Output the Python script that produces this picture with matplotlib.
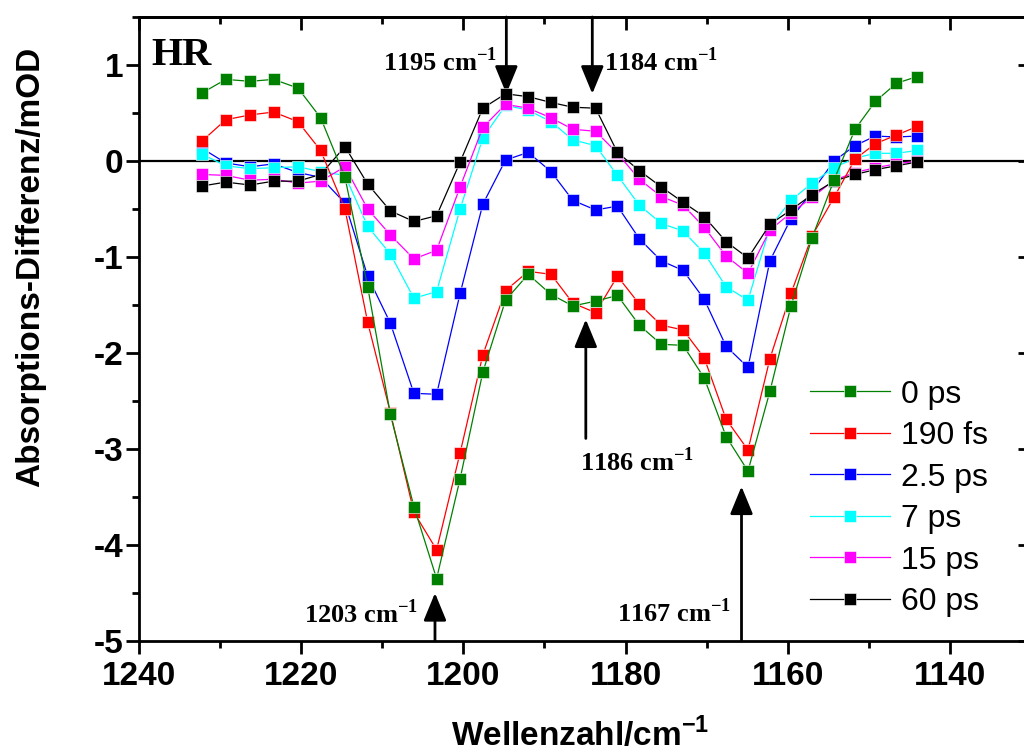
import matplotlib
matplotlib.use("Agg")
import matplotlib.pyplot as plt
from matplotlib.ticker import MultipleLocator, FuncFormatter

plt.rcParams["font.family"] = ["Liberation Sans", "DejaVu Sans"]
plt.rcParams["font.weight"] = "bold"
plt.rcParams["axes.unicode_minus"] = False
plt.rcParams["mathtext.fontset"] = "custom"
plt.rcParams["mathtext.rm"] = "Liberation Serif:bold"
plt.rcParams["mathtext.sf"] = "Liberation Sans:bold"

# wavenumbers of the detector pixels (cm^-1)
wavenumber = [1232.2, 1229.3, 1226.3, 1223.4, 1220.4, 1217.6, 1214.6, 1211.8, 1209.0,
              1206.1, 1203.3, 1200.4, 1197.6, 1194.8, 1192.0, 1189.2, 1186.5, 1183.7,
              1181.0, 1178.3, 1175.6, 1172.9, 1170.3, 1167.6, 1164.9, 1162.2, 1159.6,
              1157.0, 1154.3, 1151.7, 1149.2, 1146.6, 1144.0]

# absorbance differences (mOD) per delay time
od_0ps = [0.71, 0.85, 0.83, 0.85, 0.76, 0.45, -0.17, -1.31, -2.64, -3.60, -4.35,
          -3.31, -2.20, -1.45, -1.18, -1.39, -1.51, -1.46, -1.40, -1.71, -1.91, -1.92,
          -2.26, -2.87, -3.23, -2.40, -1.51, -0.80, -0.20, 0.33, 0.62, 0.81, 0.88]
od_190fs = [0.21, 0.43, 0.48, 0.51, 0.41, 0.11, -0.50, -1.68, -2.62, -3.66, -4.05,
            -3.04, -2.02, -1.35, -1.15, -1.18, -1.48, -1.58, -1.20, -1.49, -1.71, -1.76,
            -2.05, -2.69, -3.01, -2.06, -1.38, -0.78, -0.38, 0.02, 0.18, 0.27, 0.36]
od_2_5ps = [0.13, -0.02, -0.06, -0.03, -0.12, -0.17, -0.44, -1.20, -1.69, -2.42, -2.43,
            -1.38, -0.45, 0.01, 0.09, -0.11, -0.41, -0.51, -0.47, -0.81, -1.04, -1.14,
            -1.44, -1.93, -2.15, -1.04, -0.60, -0.32, 0.00, 0.16, 0.26, 0.25, 0.26]
od_7ps = [0.07, -0.05, -0.08, -0.07, -0.06, -0.11, -0.15, -0.68, -0.97, -1.43, -1.36,
          -0.50, 0.24, 0.58, 0.53, 0.41, 0.22, 0.16, -0.15, -0.46, -0.65, -0.73,
          -0.96, -1.31, -1.45, -0.69, -0.41, -0.23, -0.07, 0.03, 0.08, 0.08, 0.11]
od_15ps = [-0.14, -0.15, -0.20, -0.19, -0.23, -0.21, -0.06, -0.50, -0.77, -1.02, -0.93,
           -0.27, 0.35, 0.59, 0.55, 0.45, 0.33, 0.31, 0.08, -0.19, -0.37, -0.46,
           -0.69, -0.99, -1.17, -0.72, -0.54, -0.38, -0.20, -0.12, -0.07, -0.03, 0.00]
od_60ps = [-0.26, -0.22, -0.25, -0.21, -0.21, -0.14, 0.15, -0.24, -0.52, -0.63, -0.57,
           -0.01, 0.55, 0.70, 0.67, 0.61, 0.56, 0.55, 0.09, -0.10, -0.27, -0.43,
           -0.58, -0.84, -1.01, -0.66, -0.51, -0.35, -0.21, -0.14, -0.09, -0.05, -0.01]

labels = ["0 ps", "190 fs", "2.5 ps", "7 ps", "15 ps", "60 ps"]
series = [od_0ps, od_190fs, od_2_5ps, od_7ps, od_15ps, od_60ps]
colors = ["#008000", "#ff0000", "#0000ff", "#00ffff", "#ff00ff", "#000000"]
zorders = [8, 7, 3, 4, 5, 6]

# marked bands: label and arrow x
band_labels = ["1195", "1184", "1186", "1203", "1167"]
band_pos = [1194.7, 1184.1, 1184.9, 1203.5, 1165.7]

fig = plt.figure(figsize=(10.24, 7.54), dpi=100)
ax = fig.add_axes([139 / 1024, 1 - 641 / 754, 892 / 1024, 624 / 754])

for y, lab, c, z in zip(series, labels, colors, zorders):
    ax.plot(wavenumber, y, color=c, lw=0.9, marker="s", ms=8, mfc=c,
            mec="white", mew=0.4, label=lab, zorder=z)

ax.axhline(0, color="black", lw=1.6, zorder=2)

ax.set_xlim(1240, 1130)
ax.set_ylim(-5, 1.5)
ax.xaxis.set_major_locator(MultipleLocator(20))
ax.xaxis.set_minor_locator(MultipleLocator(10))
ax.yaxis.set_major_locator(MultipleLocator(1))
ax.yaxis.set_minor_locator(MultipleLocator(0.5))
ax.yaxis.set_major_formatter(FuncFormatter(lambda v, p: f"{v:.0f}"))

for s in ax.spines.values():
    s.set_linewidth(2)
ax.tick_params(which="both", direction="out", width=2, labelsize=24, top=False, right=False)
ax.tick_params(which="major", length=9.5)
ax.tick_params(which="minor", length=5)
ax.tick_params(axis="x", pad=5)
ax.tick_params(axis="y", pad=2)

# inward ticks on top and right
top = ax.secondary_xaxis("top")
top.xaxis.set_major_locator(MultipleLocator(20))
top.xaxis.set_minor_locator(MultipleLocator(10))
top.tick_params(which="both", direction="in", width=2, labeltop=False)
top.tick_params(which="major", length=9.5)
top.tick_params(which="minor", length=5)
top.spines["top"].set_linewidth(2)
right = ax.secondary_yaxis("right")
right.yaxis.set_major_locator(MultipleLocator(1))
right.yaxis.set_minor_locator(MultipleLocator(0.5))
right.tick_params(which="both", direction="in", width=2, labelright=False)
right.tick_params(which="major", length=9.5)
right.tick_params(which="minor", length=5)

ax.set_xlabel("Wellenzahl/cm$^{\\mathsf{-1}}$", fontsize=24, fontweight="bold")
ax.set_ylabel("Absorptions-Differenz/mOD", fontsize=24, fontweight="bold")
ax.xaxis.set_label_coords(0.495, -0.121)
ax.yaxis.set_label_coords(-0.104, 0.6)

ax.text(1238.5, 1.0, "HR", family="Liberation Serif", fontsize=29, fontweight="bold",
        va="baseline", ha="left")

serif = dict(family="Liberation Serif", fontsize=19, fontweight="bold", va="baseline")
arrow = dict(arrowstyle="-|>,head_length=0.85,head_width=0.35", color="black", lw=2,
             shrinkA=0, shrinkB=0, mutation_scale=20)

# down arrows from the top
ax.annotate("", xy=(band_pos[0], 0.70), xytext=(band_pos[0], 1.5), arrowprops=arrow)
ax.text(1195.9, 0.94, band_labels[0] + " cm$^{\\mathrm{-1}}$", ha="right", **serif)
ax.annotate("", xy=(band_pos[1], 0.70), xytext=(band_pos[1], 1.5), arrowprops=arrow)
ax.text(1182.6, 0.94, band_labels[1] + " cm$^{\\mathrm{-1}}$", ha="left", **serif)

# up arrows
ax.annotate("", xy=(band_pos[2], -1.65), xytext=(band_pos[2], -2.89), arrowprops=arrow)
ax.text(1185.6, -3.23, band_labels[2] + " cm$^{\\mathrm{-1}}$", ha="left", **serif)
ax.annotate("", xy=(band_pos[3], -4.50), xytext=(band_pos[3], -5.0), arrowprops=arrow)
ax.text(1219.6, -4.81, band_labels[3] + " cm$^{\\mathrm{-1}}$", ha="left", **serif)
ax.annotate("", xy=(band_pos[4], -3.39), xytext=(band_pos[4], -5.0), arrowprops=arrow)
ax.text(1181.1, -4.80, band_labels[4] + " cm$^{\\mathrm{-1}}$", ha="left", **serif)

ax.legend(loc="upper left", bbox_to_anchor=(0.752, 0.419), frameon=False,
          prop={"family": "Liberation Sans", "weight": "normal", "size": 23},
          handlelength=2.5, handletextpad=0.35, labelspacing=0.36,
          borderpad=0, borderaxespad=0, numpoints=1)

plt.savefig("out.png", dpi=100)
